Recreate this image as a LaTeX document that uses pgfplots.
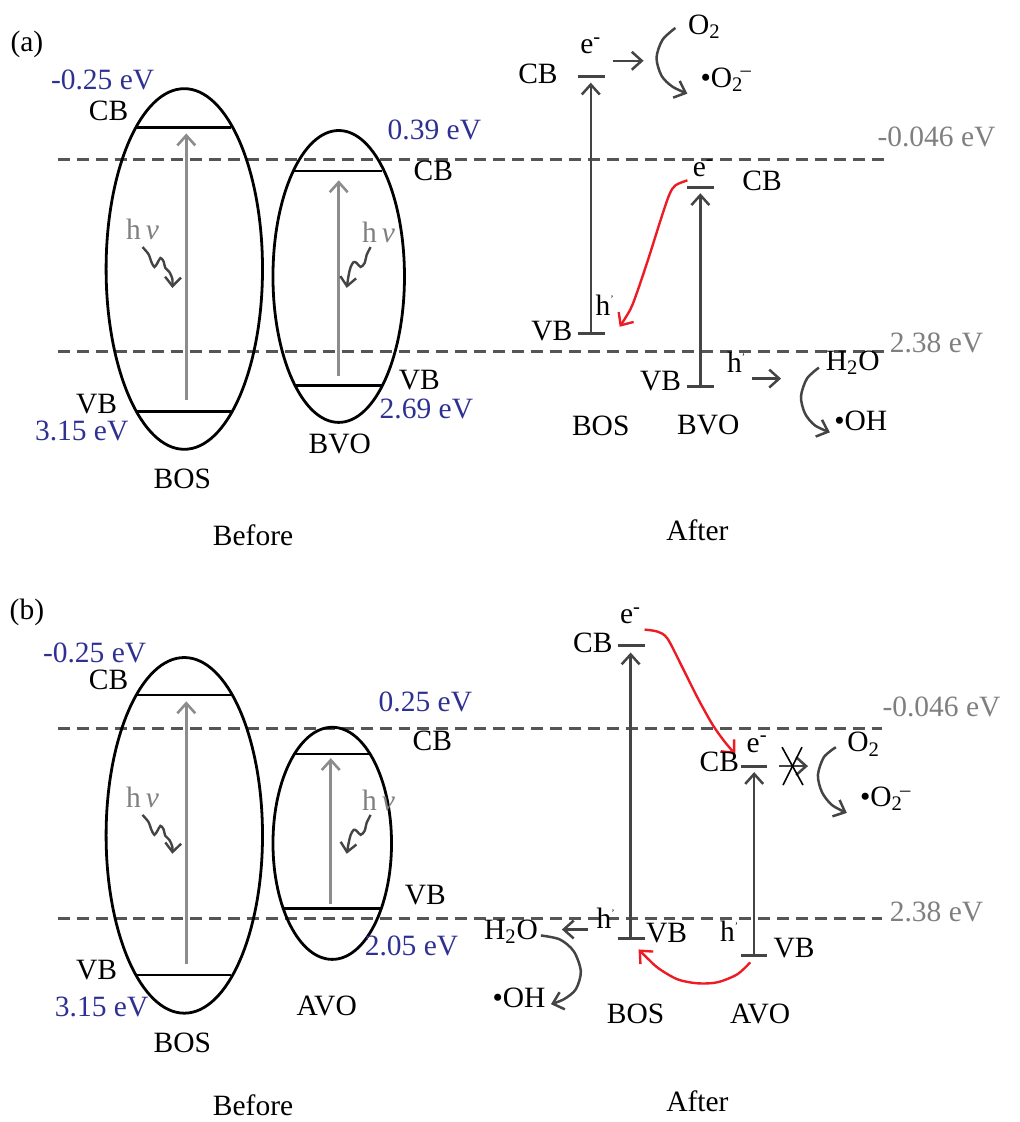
\documentclass[border=0pt]{standalone}
\usepackage{fontspec}
\setmainfont{Liberation Serif}
\usepackage{pgfplots}
\pgfplotsset{compat=1.18}
\usetikzlibrary{arrows.meta}
\definecolor{eblue}{HTML}{2E3192}
\definecolor{lgray}{HTML}{7F7F7F}
\definecolor{dgray}{HTML}{444444}
\definecolor{dashc}{HTML}{555555}
\definecolor{agray}{HTML}{8C8C8C}
\definecolor{ered}{HTML}{ED1C24}
\newcommand{\hp}{h\raisebox{0.9ex}{\tiny'}}
\newcommand{\eminus}{e\textsuperscript{-}}
\newcommand{\otwo}{\textbullet O\textsubscript{2}\kern-0.1em\textsuperscript{–}}
\begin{document}
\begin{tikzpicture}[font=\fontsize{14.8}{17}\selectfont]
\begin{axis}[
  scale only axis, width=511.5pt, height=561pt,
  xmin=0, xmax=1023, ymin=0, ymax=1122, y dir=reverse,
  axis lines=none, clip=false,
  every axis plot/.append style={no markers},
  dashl/.style={dashc, line width=1.4pt, dash pattern=on 6pt off 3.5pt},
  lev/.style={black, line width=1.1pt},
  rlev/.style={dgray, line width=1.4pt},
  garr/.style={agray, line width=1.3pt, -{Straight Barb[length=5pt,width=9pt,line width=1.3pt]}},
  darr/.style={dgray, line width=1.25pt, -{Straight Barb[length=5pt,width=9pt,line width=1.25pt]}},
  rarr/.style={ered, line width=1.2pt, -{Straight Barb[length=5pt,width=9pt,line width=1.2pt]}},
  wavy/.style={dgray, line width=1.2pt, -{Straight Barb[length=4.5pt,width=8pt,line width=1.2pt]}},
]
\path (0,0) rectangle (1023,1122);
% ================= panel (a) =================
\node at (27,45) {(a)};
\addplot[dashl] coordinates {(58,160) (893,160)};
\addplot[dashl] coordinates {(58,353) (893,353)};
\node[lgray] at (940,137) {-0.046 eV};
\node[lgray] at (940,344) {2.38 eV};
% BOS ellipse
\draw[line width=1.4pt] (185,270) ellipse [x radius=39.25pt, y radius=90.5pt];
\addplot[lev] coordinates {(137,128) (232,128)};
\addplot[lev] coordinates {(137,413) (232,413)};
\addplot[garr] coordinates {(187,402) (187,134)};
\node[lgray] at (143,230) {h\,\textit{ν}};
\addplot[wavy, smooth] coordinates {(143,248) (149,255) (152,263) (155,268) (158,264) (161,259) (164,262) (166,269) (170,273) (173,280) (173,289)};
\node[eblue] at (103,80) {-0.25 eV};
\node at (109,111) {CB};
\node at (97,406) {VB};
\node[eblue] at (82,433) {3.15 eV};
\node at (183,481) {BOS};
% BVO ellipse
\draw[line width=1.4pt] (340,277.5) ellipse [x radius=33pt, y radius=73.25pt];
\addplot[lev] coordinates {(295,172) (383,172)};
\addplot[lev] coordinates {(297,387) (383,387)};
\addplot[garr] coordinates {(340,377) (340,181)};
\node[lgray] at (380,233) {h\,\textit{ν}};
\addplot[wavy, smooth] coordinates {(372,248) (368,256) (366,264) (362,268) (358,264) (355,263) (352,268) (350,276) (348,289)};
\node[eblue] at (436,130) {0.39 eV};
\node at (435,172) {CB};
\node at (421,381) {VB};
\node[eblue] at (428,410) {2.69 eV};
\node at (341,446) {BVO};
\node at (254,537) {Before};
% After (a)
\addplot[rlev] coordinates {(580,77) (607,77)};
\addplot[rlev] coordinates {(580,335) (607,335)};
\addplot[darr] coordinates {(593,335) (593,83)};
\node at (540,74) {CB};
\node at (593,46) {\eminus};
\addplot[darr] coordinates {(615,61) (646,61)};
\addplot[darr, smooth] coordinates {(678,28) (665,40) (659,58) (664,76) (675,87) (690,94)};
\node at (707,27) {O\textsubscript{2}};
\node at (729,80) {\otwo};
\node at (554,332) {VB};
\node at (607,306) {\hp};
\addplot[rarr, smooth] coordinates {(690,181) (678,186) (672,195) (664,218) (652,256) (641,289) (633,310) (622,328)};
\addplot[rlev] coordinates {(690,188) (717,188)};
\addplot[rlev] coordinates {(690,388) (717,388)};
\addplot[darr] coordinates {(703,388) (703,194)};
\node at (706,169) {\eminus};
\node at (765,182) {CB};
\node at (663,383) {VB};
\node at (739,364) {\hp};
\addplot[darr] coordinates {(755,380) (784,380)};
\node at (856,364) {H\textsubscript{2}O};
\addplot[darr, smooth] coordinates {(822,369) (810,380) (804,398) (808,415) (818,427) (833,434)};
\node at (864,422) {\textbullet OH};
\node at (603,427) {BOS};
\node at (711,427) {BVO};
\node at (700,532) {After};
% ================= panel (b) =================
\node at (27,615) {(b)};
\addplot[dashl] coordinates {(58,731) (885,731)};
\addplot[dashl] coordinates {(58,922) (885,922)};
\node[lgray] at (945,710) {-0.046 eV};
\node[lgray] at (940,915) {2.38 eV};
% BOS ellipse
\draw[line width=1.4pt] (185,838.5) ellipse [x radius=39.25pt, y radius=89.25pt];
\addplot[lev] coordinates {(137,698) (232,698)};
\addplot[lev] coordinates {(137,979) (232,979)};
\addplot[garr] coordinates {(187,968) (187,704)};
\node[lgray] at (143,800) {h\,\textit{ν}};
\addplot[wavy, smooth] coordinates {(143,818) (149,825) (152,833) (155,838) (158,834) (161,829) (164,832) (166,839) (170,843) (173,850) (173,857)};
\node[eblue] at (95,655) {-0.25 eV};
\node at (109,682) {CB};
\node at (97,974) {VB};
\node[eblue] at (102,1011) {3.15 eV};
\node at (183,1047) {BOS};
% AVO ellipse
\draw[line width=1.4pt] (333.5,846.5) ellipse [x radius=29.75pt, y radius=58.25pt];
\addplot[lev] coordinates {(296,757) (370,757)};
\addplot[lev] coordinates {(285,912) (382,912)};
\addplot[garr] coordinates {(332,907) (332,761)};
\node[lgray] at (380,803) {h\,\textit{ν}};
\addplot[wavy, smooth] coordinates {(372,818) (368,826) (366,834) (362,838) (358,834) (355,833) (352,838) (350,846) (348,857)};
\node[eblue] at (427,705) {0.25 eV};
\node at (434,744) {CB};
\node at (427,898) {VB};
\node[eblue] at (413,949) {2.05 eV};
\node at (328,1010) {AVO};
\node at (254,1109) {Before};
% After (b)
\addplot[rlev] coordinates {(620,648) (647,648)};
\addplot[rlev] coordinates {(620,942) (647,942)};
\addplot[darr] coordinates {(633,942) (633,655)};
\node at (595,645) {CB};
\node at (633,618) {\eminus};
\node at (669,937) {VB};
\node at (608,922) {\hp};
\addplot[darr] coordinates {(590,933) (564,933)};
\node at (513,935) {H\textsubscript{2}O};
\addplot[darr, smooth] coordinates {(543,939) (562,943) (576,955) (583,975) (578,993) (566,1003) (553,1008)};
\node at (521,1002) {\textbullet OH};
\node at (638,1018) {BOS};
\addplot[rarr, smooth] coordinates {(647,632) (660,634) (670,641) (685,670) (700,700) (715,727) (727,744) (738,757)};
\addplot[rlev] coordinates {(744,769) (770,769)};
\addplot[rlev] coordinates {(744,959) (770,959)};
\addplot[darr] coordinates {(757,959) (757,775)};
\node at (722,765) {CB};
\node at (760,747) {\eminus};
\addplot[darr] coordinates {(782,769) (811,769)};
\addplot[black, line width=0.8pt] coordinates {(785,750) (806,788)};
\addplot[black, line width=0.8pt] coordinates {(805,750) (786,788)};
\addplot[darr, smooth] coordinates {(839,750) (827,760) (821,778) (825,795) (835,808) (850,816)};
\node at (867,747) {O\textsubscript{2}};
\node at (889,802) {\otwo};
\node at (732,935) {\hp};
\node at (797,952) {VB};
\addplot[rarr, smooth] coordinates {(753,966) (740,978) (720,986) (700,987) (680,983) (661,972) (650,962) (641,953)};
\node at (763,1018) {AVO};
\node at (700,1105) {After};
\end{axis}
\end{tikzpicture}
\end{document}
